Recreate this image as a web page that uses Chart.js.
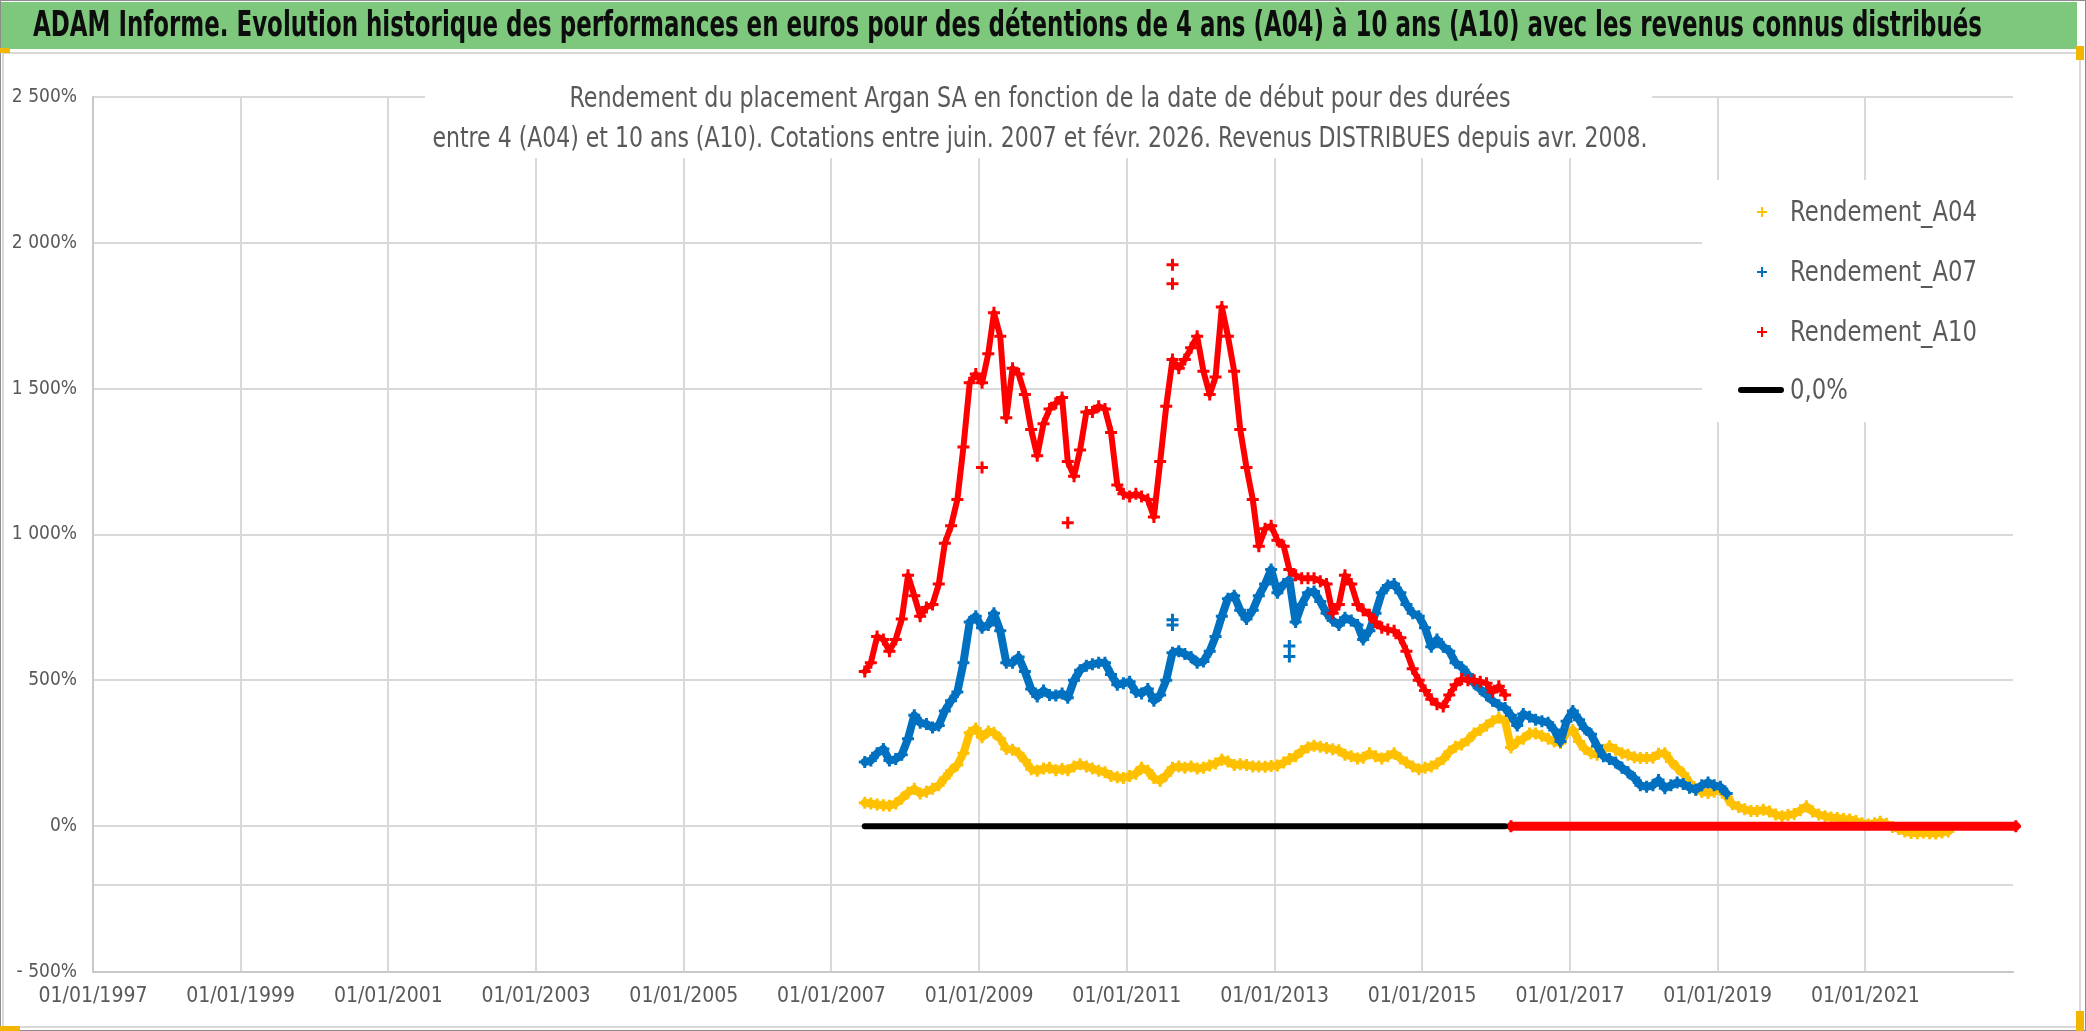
<!DOCTYPE html>
<html lang="fr">
<head>
<meta charset="utf-8">
<title>Argan SA - rendements A04 a A10</title>
<script src="https://cdn.jsdelivr.net/npm/chart.js@4.4.1/dist/chart.umd.min.js"></script>
<style>
  html, body { margin: 0; padding: 0; background: #fff; }
  .chart-box { position: relative; width: 2086px; height: 1031px; }
</style>
</head>
<body>
<div class="chart-box"><canvas id="myChart"></canvas></div>
<script>
/* Texts */
const mainTitle = 'ADAM Informe. Evolution historique des performances en euros pour des détentions de 4 ans (A04) à 10 ans (A10) avec les revenus connus distribués';
const subTitle = [
  'Rendement du placement Argan SA en fonction de la date de début pour des durées',
  'entre 4 (A04) et 10 ans (A10). Cotations entre juin. 2007 et févr. 2026. Revenus DISTRIBUES depuis avr. 2008.'
];
const seriesNames = ['Rendement_A04', 'Rendement_A07', 'Rendement_A10', '0,0%'];

/* Data (monthly, first value = firstMonth), in % */
const firstMonth = '2007-06';
const rendementA04 = [80, 78, 74, 72, 70, 78, 95, 115, 128, 112, 118, 128, 140, 165, 190, 210, 250, 320, 335, 305,
  325, 320, 300, 265, 262, 250, 225, 195, 190, 198, 200, 192, 196, 192, 205, 212, 205, 198, 190, 185,
  172, 168, 165, 172, 180, 200, 190, 165, 155, 175, 200, 205, 200, 205, 198, 200, 208, 215, 228, 222,
  210, 212, 210, 205, 205, 204, 206, 208, 218, 230, 240, 258, 270, 276, 272, 268, 264, 260, 245, 240,
  232, 235, 250, 240, 232, 240, 250, 232, 218, 205, 195, 200, 205, 215, 230, 255, 272, 280, 295, 318,
  330, 345, 360, 372, 360, 270, 290, 300, 318, 318, 310, 300, 290, 285, 320, 330, 290, 265, 250, 245,
  262, 274, 262, 250, 245, 236, 234, 234, 235, 248, 250, 222, 200, 180, 150, 125, 118, 114, 118, 125,
  100, 75, 66, 58, 52, 52, 56, 50, 40, 34, 38, 42, 55, 68, 50, 40, 34, 30, 28, 25,
  23, 18, 10, 6, 10, 15, 8, -3, -10, -18, -23, -24, -22, -24, -25, -22, -18];
const rendementA07 = [220, 225, 250, 265, 225, 230, 245, 300, 380, 355, 350, 338, 345, 395, 430, 460, 560, 700, 720, 680,
  690, 730, 670, 560, 560, 580, 530, 470, 445, 465, 450, 448, 455, 440, 500, 535, 550, 555, 560, 560,
  520, 485, 490, 495, 460, 455, 470, 430, 450, 500, 595, 600, 590, 580, 560, 565, 600, 650, 720, 780,
  790, 740, 710, 740, 790, 830, 880, 800, 830, 845, 700, 760, 800, 805, 770, 730, 705, 690, 715, 705,
  690, 640, 670, 730, 800, 825, 830, 800, 760, 730, 720, 680, 615, 640, 615, 600, 560, 545, 520, 490,
  470, 450, 430, 415, 405, 380, 345, 385, 375, 365, 360, 355, 330, 290, 360, 395, 365, 335, 315, 275,
  240, 230, 218, 200, 185, 165, 140, 135, 140, 158, 130, 140, 150, 145, 132, 125, 140, 150, 140, 135,
  112];
const rendementA10 = [530, 560, 650, 640, 600, 640, 710, 860, 790, 720, 750, 760, 830, 970, 1030, 1120, 1300, 1520, 1550, 1520,
  1620, 1760, 1680, 1400, 1570, 1550, 1480, 1360, 1270, 1380, 1430, 1450, 1470, 1250, 1200, 1290, 1420, 1420, 1440, 1430,
  1350, 1170, 1140, 1130, 1140, 1130, 1120, 1060, 1250, 1440, 1600, 1570, 1600, 1640, 1680, 1560, 1480, 1540, 1780, 1680,
  1560, 1360, 1230, 1120, 960, 1020, 1030, 980, 960, 880, 860, 850, 850, 850, 840, 830, 730, 760, 860, 830,
  760, 740, 725, 700, 680, 674, 670, 646, 600, 540, 500, 465, 435, 418, 410, 450, 485, 505, 500, 500,
  495, 490, 460, 480, 450];

/* isolated points standing out of the clouds */
const a10OutlierMonths = ['2009-01', '2010-03', '2011-08', '2011-08'];
const a10OutlierValues = [1230, 1040, 1925, 1860];
const a07OutlierMonths = ['2011-08', '2011-08', '2013-03', '2013-03'];
const a07OutlierValues = [708, 690, 618, 582];

/* A10 stays at 0 after its last value, the 0,0% line runs until then */
const a10ZeroMonths = ['2016-03', '2023-01'];
const zeroLineMonths = ['2007-06', '2016-02'];

/* Axes */
const xMin = '1997-01-01';
const xMax = '2023-01-01';
const xTickYears = [1997, 1999, 2001, 2003, 2005, 2007, 2009, 2011, 2013, 2015, 2017, 2019, 2021];
const yTickValues = [-500, 0, 500, 1000, 1500, 2000, 2500];
const xAxisCross = -200;

const colors = ['#FFC000', '#0070C0', '#FF0000', '#000000'];
const FONT = "'Liberation Sans Narrow', 'DejaVu Sans Condensed', 'Liberation Sans', Arial, sans-serif";

function monthToTime(str, offset) {
  const parts = str.split('-');
  return Date.UTC(+parts[0], +parts[1] - 1 + (offset || 0), 15);
}

function dayToTime(str) {
  const parts = str.split('-');
  return Date.UTC(+parts[0], +parts[1] - 1, +parts[2]);
}

function toPoints(values) {
  return values.map(function(v, i) {
    return { x: monthToTime(firstMonth, i), y: v };
  });
}

function pairPoints(months, values) {
  return months.map(function(m, i) {
    return { x: monthToTime(m), y: values[i] };
  });
}

function pad(n) {
  return n < 10 ? '0' + n : '' + n;
}

function formatDate(t) {
  const d = new Date(t);
  return pad(d.getUTCDate()) + '/' + pad(d.getUTCMonth() + 1) + '/' + d.getUTCFullYear();
}

function formatPercent(v) {
  const abs = Math.abs(v);
  let s = '' + abs;
  if (abs >= 1000) {
    s = Math.floor(abs / 1000) + ' ' + ('' + (abs % 1000)).padStart(3, '0');
  }
  return (v < 0 ? '- ' : '') + s + '%';
}

// draws text squeezed/stretched to a given width
function fitText(ctx, text, x, y, width, align) {
  const w = ctx.measureText(text).width;
  ctx.save();
  ctx.translate(x, y);
  ctx.scale(width / w, 1);
  ctx.textAlign = align;
  ctx.fillText(text, 0, 0);
  ctx.restore();
}

function drawCross(ctx, x, y, r, color) {
  ctx.strokeStyle = color;
  ctx.lineWidth = 2;
  ctx.beginPath();
  ctx.moveTo(x - r, y);
  ctx.lineTo(x + r, y);
  ctx.moveTo(x, y - r);
  ctx.lineTo(x, y + r);
  ctx.stroke();
}

const decorPlugin = {
  id: 'decor',
  beforeDraw: function(chart) {
    const ctx = chart.ctx;
    const w = chart.width;
    const h = chart.height;
    ctx.save();
    ctx.fillStyle = '#ffffff';
    ctx.fillRect(0, 0, w, h);

    // chart frame
    ctx.strokeStyle = '#d9d9d9';
    ctx.lineWidth = 2;
    ctx.strokeRect(3, 53, w - 9, h - 57);
    ctx.strokeStyle = '#8c8c8c';
    ctx.lineWidth = 1;
    ctx.strokeRect(0.5, 0.5, w - 1, h - 1);

    // green header
    ctx.fillStyle = '#7ec87e';
    ctx.fillRect(1, 2, w - 10, 47);
    ctx.fillStyle = '#0d0d0d';
    ctx.font = 'bold 35px ' + FONT;
    ctx.textBaseline = 'middle';
    fitText(ctx, mainTitle, 33, 27, 1949, 'left');

    // selection handles
    ctx.fillStyle = '#f2b600';
    ctx.fillRect(0, 48, 10, 5);
    ctx.fillRect(w - 10, 46, 8, 14);
    ctx.fillRect(0, h - 5, 20, 5);
    ctx.fillRect(w - 10, h - 20, 8, 20);
    ctx.restore();
  },
  beforeDatasetsDraw: function(chart) {
    const ctx = chart.ctx;
    ctx.save();
    // boxes of subtitle and legend hide the grid
    ctx.fillStyle = '#ffffff';
    ctx.fillRect(425, 80, 1227, 78);
    ctx.fillRect(1702, 180, 311, 242);

    ctx.fillStyle = '#595959';
    ctx.textBaseline = 'middle';
    ctx.font = '28px ' + FONT;
    fitText(ctx, subTitle[0], 1040, 100, 941, 'center');
    fitText(ctx, subTitle[1], 1040, 140, 1215, 'center');

    // legend
    const rowY = [212, 272, 332, 390];
    ctx.font = '29px ' + FONT;
    const sx = 187 / ctx.measureText(seriesNames[0]).width;
    for (let i = 0; i < seriesNames.length; i++) {
      if (i < 3) {
        drawCross(ctx, 1762, rowY[i], 5, colors[i]);
      } else {
        ctx.strokeStyle = colors[3];
        ctx.lineWidth = 6;
        ctx.lineCap = 'round';
        ctx.beginPath();
        ctx.moveTo(1741, rowY[i]);
        ctx.lineTo(1781, rowY[i]);
        ctx.stroke();
      }
      ctx.save();
      ctx.translate(1790, rowY[i] + 1);
      ctx.scale(sx, 1);
      ctx.fillStyle = '#595959';
      ctx.textAlign = 'left';
      ctx.fillText(seriesNames[i], 0, 0);
      ctx.restore();
    }
    ctx.restore();
  }
};

function crossStyle(color, order, width) {
  return {
    showLine: true,
    borderColor: color,
    backgroundColor: color,
    borderWidth: width,
    borderJoinStyle: 'round',
    borderCapStyle: 'round',
    pointStyle: 'cross',
    pointRadius: 6,
    pointHoverRadius: 6,
    pointBorderWidth: 3,
    order: order
  };
}

let a10Points = toPoints(rendementA10);
a10Points.push({ x: monthToTime(a10ZeroMonths[0], -1), y: null });
a10Points = a10Points.concat(a10ZeroMonths.map(function(m) {
  return { x: monthToTime(m), y: 0 };
}));

const datasets = [
  Object.assign({ label: seriesNames[0], data: toPoints(rendementA04) }, crossStyle(colors[0], 5, 8)),
  Object.assign({ label: seriesNames[1], data: toPoints(rendementA07) }, crossStyle(colors[1], 4, 8)),
  Object.assign({ label: seriesNames[2], data: a10Points }, crossStyle(colors[2], 2, 6), {
    clip: { left: 0, top: 0, right: 8, bottom: 0 },
    segment: {
      borderWidth: function(c) {
        return (c.p0.parsed.y === 0 && c.p1.parsed.y === 0) ? 9 : 6;
      }
    }
  }),
  {
    label: seriesNames[3],
    data: zeroLineMonths.map(function(m) { return { x: monthToTime(m), y: 0 }; }),
    showLine: true,
    borderColor: colors[3],
    borderWidth: 6,
    borderCapStyle: 'round',
    pointRadius: 0,
    order: 1
  },
  Object.assign({ label: 'A07 isolés', data: pairPoints(a07OutlierMonths, a07OutlierValues) }, crossStyle(colors[1], 3, 0), { showLine: false }),
  Object.assign({ label: 'A10 isolés', data: pairPoints(a10OutlierMonths, a10OutlierValues) }, crossStyle(colors[2], 2, 0), { showLine: false })
];

const ctx = document.getElementById('myChart').getContext('2d');
// eslint-disable-next-line no-undef
let chart = new Chart(ctx, {
  type: 'scatter',
  data: { datasets: datasets },
  plugins: [decorPlugin],
  options: {
    responsive: true,
    maintainAspectRatio: false,
    devicePixelRatio: 1,
    animation: false,
    events: [],
    layout: {
      padding: { left: 0, top: 97, right: 73, bottom: 0 }
    },
    plugins: {
      legend: { display: false },
      tooltip: { enabled: false }
    },
    scales: {
      x: {
        type: 'linear',
        min: dayToTime(xMin),
        max: dayToTime(xMax),
        afterBuildTicks: function(scale) {
          scale.ticks = xTickYears.map(function(y) { return { value: Date.UTC(y, 0, 1) }; });
        },
        afterFit: function(scale) { scale.height = 59; },
        grid: { color: '#d9d9d9', lineWidth: 2, drawTicks: false },
        border: { display: true, color: '#c8c8c8', width: 2 },
        ticks: {
          padding: 12,
          autoSkip: false,
          maxRotation: 0,
          color: '#595959',
          font: { family: FONT, size: 21 },
          callback: function(v) { return formatDate(v); }
        }
      },
      y: {
        min: -500,
        max: 2500,
        afterBuildTicks: function(scale) {
          scale.ticks = yTickValues.concat([xAxisCross]).sort(function(a, b) { return a - b; })
            .map(function(v) { return { value: v }; });
        },
        afterFit: function(scale) { scale.width = 93; },
        grid: { color: '#d9d9d9', lineWidth: 2, drawTicks: false },
        border: { display: true, color: '#c8c8c8', width: 2 },
        ticks: {
          padding: 16,
          color: '#595959',
          font: { family: FONT, size: 19 },
          callback: function(v) { return v === xAxisCross ? '' : formatPercent(v); }
        }
      }
    }
  }
});
</script>
</body>
</html>
